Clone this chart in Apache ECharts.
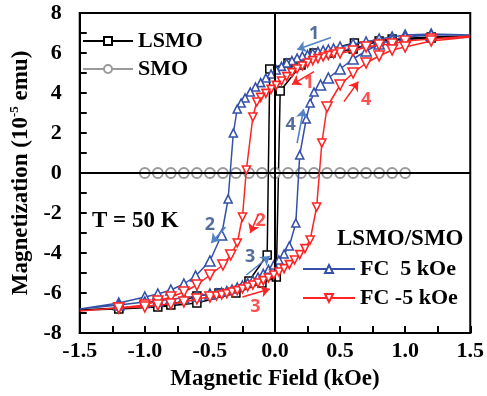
<!DOCTYPE html>
<html>
<head>
<meta charset="utf-8">
<script src="https://cdn.jsdelivr.net/npm/echarts@6/dist/echarts.min.js"></script>
<style>
  html, body { margin: 0; padding: 0; background: #fff; }
  #chart { width: 487px; height: 396px; }
</style>
</head>
<body>
<div id="chart"></div>
<script>
// Field axis (kOe) and magnetization axis (10^-5 emu)
const xMin = -1.5, xMax = 1.5, xStep = 0.5;
const yMin = -8, yMax = 8, yStep = 2;

// LSMO reference film: descending then ascending field sweep [H, M]
const lsmoDown = [[1.5,6.85],[1.2,6.8],[0.9,6.7],[0.61,6.5],[0.3,6.0],[0.1,5.5],[-0.04,5.2],
  [-0.06,-4.1],[-0.2,-5.4],[-0.43,-6.0],[-0.6,-6.15],[-0.8,-6.6],[-1.2,-6.75],[-1.5,-6.85]];
const lsmoUp = [[-1.5,-6.85],[-1.2,-6.8],[-0.9,-6.7],[-0.6,-6.5],[-0.3,-6.0],[-0.1,-5.5],[0.01,-5.2],
  [0.04,4.1],[0.2,5.4],[0.43,6.0],[0.6,6.2],[0.8,6.6],[1.2,6.75],[1.5,6.85]];

// SMO layer alone: no measurable moment
const smoField = [-1.0,-0.9,-0.8,-0.7,-0.6,-0.5,-0.4,-0.3,-0.2,-0.1,0.0,0.1,0.2,0.3,0.4,0.5,0.6,0.7,0.8,0.9,1.0];
const smoMoment = [0,0,0,0,0,0,0,0,0,0,0,0,0,0,0,0,0,0,0,0,0];

// LSMO/SMO field-cooled in +5 kOe
const fcPosDown = [[1.5,6.9],[1.2,6.95],[1.0,6.9],[0.9,6.8],[0.8,6.7],[0.7,6.55],[0.6,6.45],[0.5,6.3],
  [0.45,6.25],[0.41,6.2],[0.37,6.15],[0.33,6.08],[0.29,6.0],[0.25,5.92],[0.21,5.85],[0.17,5.75],
  [0.13,5.62],[0.09,5.5],[0.05,5.33],[0.01,5.15],[-0.03,4.95],[-0.07,4.75],[-0.11,4.52],[-0.15,4.3],
  [-0.19,4.05],[-0.23,3.75],[-0.26,3.5],[-0.29,3.2],
  [-0.32,2.0],[-0.36,-1.3],[-0.41,-3.1],[-0.5,-4.4],[-0.61,-5.15],[-0.7,-5.55],[-0.8,-5.85],
  [-0.9,-6.05],[-1.0,-6.2],[-1.2,-6.5],[-1.5,-6.8]];
const fcPosUp = [[-1.5,-6.85],[-1.2,-6.6],[-1.0,-6.45],[-0.9,-6.4],[-0.8,-6.3],[-0.7,-6.25],[-0.6,-6.15],[-0.5,-6.05],
  [-0.45,-6.0],[-0.41,-5.95],[-0.37,-5.88],[-0.33,-5.8],[-0.29,-5.7],[-0.25,-5.6],[-0.21,-5.48],
  [-0.17,-5.35],[-0.13,-5.2],[-0.09,-5.02],[-0.05,-4.82],[-0.01,-4.6],[0.03,-4.35],[0.07,-4.05],[0.11,-3.65],
  [0.16,-2.5],[0.19,0.9],[0.24,2.7],[0.27,3.5],[0.3,4.05],[0.35,4.4],[0.41,4.75],[0.5,5.2],[0.6,5.7],
  [0.7,6.1],[0.8,6.45],[0.9,6.65],[1.0,6.8],[1.2,6.9],[1.5,6.9]];

// LSMO/SMO field-cooled in -5 kOe
const fcNegDown = [[1.5,6.85],[1.2,6.7],[1.0,6.6],[0.9,6.45],[0.8,6.4],[0.7,6.3],[0.6,6.1],[0.5,6.0],
  [0.45,5.95],[0.41,5.88],[0.37,5.8],[0.33,5.72],[0.29,5.62],[0.25,5.5],[0.21,5.35],[0.17,5.2],
  [0.13,5.02],[0.09,4.82],[0.05,4.6],[0.01,4.38],[-0.03,4.18],[-0.07,3.98],[-0.11,3.78],[-0.14,3.55],
  [-0.17,2.8],[-0.22,0.15],[-0.25,-2.2],[-0.29,-3.5],[-0.34,-4.1],[-0.4,-4.6],[-0.5,-5.1],[-0.6,-5.6],
  [-0.7,-5.95],[-0.8,-6.2],[-0.9,-6.4],[-1.0,-6.6],[-1.2,-6.75],[-1.5,-6.9]];
const fcNegUp = [[-1.5,-6.9],[-1.2,-6.75],[-1.0,-6.7],[-0.9,-6.6],[-0.8,-6.55],[-0.7,-6.45],[-0.6,-6.3],[-0.5,-6.2],
  [-0.45,-6.15],[-0.41,-6.1],[-0.37,-6.03],[-0.33,-5.95],[-0.29,-5.88],[-0.25,-5.8],[-0.21,-5.7],
  [-0.17,-5.6],[-0.13,-5.5],[-0.09,-5.38],[-0.05,-5.25],[-0.01,-5.1],[0.03,-4.95],[0.07,-4.78],
  [0.11,-4.58],[0.15,-4.35],[0.19,-4.08],[0.23,-3.78],[0.27,-3.35],
  [0.32,-1.7],[0.36,1.5],[0.4,3.3],[0.5,4.4],[0.6,5.0],[0.7,5.5],[0.8,5.85],[0.9,6.15],[1.0,6.3],
  [1.2,6.6],[1.5,6.8]];

// Sweep-direction arrows: [startH, startM, endH, endM], with their step numbers
const arrowsPos = [[0.43,6.77,0.17,6.17],[-0.38,-2.7,-0.49,-3.5],[-0.22,-5.1,-0.04,-4.15],[0.17,1.5,0.22,3.2]];
const arrowsNeg = [[0.30,5.07,0.13,4.42],[-0.13,-2.1,-0.19,-3.0],[-0.25,-6.2,-0.04,-5.8],[0.53,3.57,0.64,4.57]];
const stepLabelsPos = [[0.30,6.95,'1'],[-0.50,-2.6,'2'],[-0.19,-4.2,'3'],[0.12,2.4,'4']];
const stepLabelsNeg = [[0.26,4.5,'1'],[-0.11,-2.4,'2'],[-0.15,-6.7,'3'],[0.70,3.67,'4']];

const FONT = 'Liberation Serif';
const BLUE = '#3550a8', RED = '#ff2424', GRAY = '#9a9a9a';
const ARROW_BLUE = '#5483c6', NUM_BLUE = '#2b4a80';

const chart = echarts.init(document.getElementById('chart'), null, { renderer: 'canvas' });

// The sweeps run past the plotted window, so no marker sits on the frame edge.
// Where the field steps are fine the measurement markers are drawn smaller.
function loopPoints(down, up, size, fineSize) {
  const items = [];
  [down, up].forEach(branch => {
    branch.forEach((p, i) => {
      const prev = i > 0 ? Math.abs(p[0] - branch[i - 1][0]) : Infinity;
      const next = i < branch.length - 1 ? Math.abs(branch[i + 1][0] - p[0]) : Infinity;
      const fine = Math.min(prev, next) < 0.045 && Math.max(prev, next) < 0.06;
      const item = { value: p, symbolSize: fine ? fineSize : size };
      if (Math.abs(p[0]) >= xMax) item.symbol = 'none';
      items.push(item);
    });
  });
  return items;
}

function arrowLines(list, color) {
  return list.map(a => [
    { coord: [a[0], a[1]], lineStyle: { color: color, width: 1.6, type: 'solid' } },
    { coord: [a[2], a[3]] }
  ]);
}

const option = {
  animation: false,
  backgroundColor: '#fff',
  grid: { left: 73, right: 16, top: 13, bottom: 63, show: true, borderColor: '#000', borderWidth: 2 },
  xAxis: {
    type: 'value', min: xMin, max: xMax, interval: xStep,
    name: 'Magnetic Field (kOe)', nameLocation: 'middle', nameGap: 35,
    nameTextStyle: { fontFamily: FONT, fontWeight: 'bold', fontSize: 23, color: '#000' },
    axisLine: { onZero: false, lineStyle: { color: '#000', width: 2 } },
    axisTick: { inside: true, length: 7, lineStyle: { color: '#000', width: 2 } },
    minorTick: { show: true, splitNumber: 2, length: 7, lineStyle: { color: '#000', width: 2 } },
    splitLine: { show: false },
    axisLabel: { formatter: v => v.toFixed(1), fontFamily: FONT, fontWeight: 'bold', fontSize: 22, color: '#000', margin: 7 }
  },
  yAxis: {
    type: 'value', min: yMin, max: yMax, interval: yStep,
    name: '{a|Magnetization (10}{s|-5}{a| emu)}', nameLocation: 'middle', nameGap: 35, nameRotate: 90,
    nameTextStyle: {
      rich: {
        a: { fontFamily: FONT, fontWeight: 'bold', fontSize: 23, color: '#000' },
        s: { fontFamily: FONT, fontWeight: 'bold', fontSize: 13, color: '#000', padding: [0, 0, 13, 0] }
      }
    },
    axisLine: { onZero: false, lineStyle: { color: '#000', width: 2 } },
    axisTick: { inside: true, length: 7, lineStyle: { color: '#000', width: 2 } },
    minorTick: { show: true, splitNumber: 2, length: 7, lineStyle: { color: '#000', width: 2 } },
    splitLine: { show: false },
    axisLabel: { fontFamily: FONT, fontWeight: 'bold', fontSize: 22, color: '#000', margin: 18 }
  },
  legend: [
    {
      data: ['LSMO', 'SMO'], orient: 'vertical', left: 82, top: 30, itemGap: 6, padding: 0,
      itemWidth: 50, itemHeight: 10, selectedMode: false,
      textStyle: { fontFamily: FONT, fontWeight: 'bold', fontSize: 22, color: '#000' }
    },
    {
      data: ['FC  5 kOe', 'FC -5 kOe'], orient: 'vertical', left: 302, top: 258, itemGap: 7, padding: 0,
      itemWidth: 52, itemHeight: 10, selectedMode: false,
      textStyle: { fontFamily: FONT, fontWeight: 'bold', fontSize: 22, color: '#000', whiteSpace: 'pre' }
    }
  ],
  graphic: [
    { type: 'text', left: 92, top: 210, style: { text: 'T = 50 K', fontFamily: FONT, fontWeight: 'bold', fontSize: 23, fill: '#000' } },
    { type: 'text', left: 337, top: 228, style: { text: 'LSMO/SMO', fontFamily: FONT, fontWeight: 'bold', fontSize: 23, fill: '#000' } }
  ],
  series: [
    {
      name: 'LSMO', type: 'line', z: 2,
      data: loopPoints(lsmoDown, lsmoUp, 8, 8),
      color: '#000',
      lineStyle: { color: '#000', width: 1.5 },
      symbol: 'rect', symbolSize: 8,
      itemStyle: { color: '#fff', borderColor: '#000', borderWidth: 1.5 },
      markLine: {
        silent: true, symbol: 'none', label: { show: false },
        lineStyle: { color: '#000', width: 2, type: 'solid' },
        data: [{ xAxis: 0 }, { yAxis: 0 }]
      }
    },
    {
      name: 'SMO', type: 'line', z: 3,
      data: smoField.map((h, i) => [h, smoMoment[i]]),
      color: GRAY,
      lineStyle: { color: GRAY, width: 1.5 },
      symbol: 'circle', symbolSize: 10,
      itemStyle: { color: '#fff', borderColor: GRAY, borderWidth: 1.8 }
    },
    {
      name: 'FC  5 kOe', type: 'line', z: 4,
      data: loopPoints(fcPosDown, fcPosUp, 10, 8),
      color: BLUE,
      lineStyle: { color: BLUE, width: 1.5 },
      symbol: 'triangle', symbolSize: 10,
      itemStyle: { color: '#fff', borderColor: BLUE, borderWidth: 1.6 }
    },
    {
      name: 'FC -5 kOe', type: 'line', z: 5,
      data: loopPoints(fcNegDown, fcNegUp, 10, 8),
      color: RED,
      lineStyle: { color: RED, width: 1.5 },
      symbol: 'triangle', symbolRotate: 180, symbolSize: 10,
      itemStyle: { color: '#fff', borderColor: RED, borderWidth: 1.6 }
    },
    {
      name: 'arrows', type: 'line', z: 6, data: [],
      markLine: {
        silent: true, symbol: ['none', 'arrow'], symbolSize: 9, label: { show: false },
        data: arrowLines(arrowsPos, ARROW_BLUE).concat(arrowLines(arrowsNeg, RED))
      }
    },
    {
      name: 'steps', type: 'scatter', z: 7, symbolSize: 0,
      data: stepLabelsPos.map(s => ({ value: [s[0], s[1]], name: s[2],
          label: { color: NUM_BLUE } }))
        .concat(stepLabelsNeg.map(s => ({ value: [s[0], s[1]], name: s[2],
          label: { color: RED } }))),
      label: { show: true, position: 'inside', formatter: p => p.name,
        fontFamily: 'Open Sans', fontWeight: 'bold', fontSize: 18 }
    }
  ]
};

chart.setOption(option);
</script>
</body>
</html>
